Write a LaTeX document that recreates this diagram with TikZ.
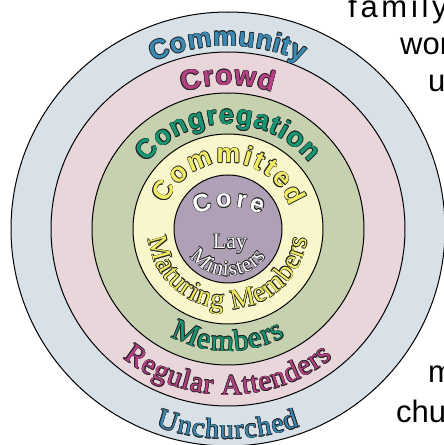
\documentclass[tikz,border=0pt]{standalone}
\usepackage{fontspec}
\setmainfont{Liberation Serif}
\newfontfamily\lsans{Liberation Sans}
\newfontfamily\lsansLS{Liberation Sans}[LetterSpace=12]
\newfontfamily\lserif{Liberation Serif}
\usetikzlibrary{decorations.text}

\definecolor{ringA}{RGB}{216,224,232}
\definecolor{ringB}{RGB}{232,214,218}
\definecolor{ringC}{RGB}{198,209,175}
\definecolor{ringD}{RGB}{248,246,202}
\definecolor{ringE}{RGB}{176,160,181}
\definecolor{cBlue}{RGB}{58,138,180}
\definecolor{cMag}{RGB}{182,64,132}
\definecolor{cGreen}{RGB}{22,150,115}
\definecolor{cYellow}{RGB}{242,236,100}
\definecolor{outl}{RGB}{35,35,35}

\newcommand\fCommunity{\lsans\bfseries\fontsize{27}{27}\selectfont}
\newcommand\fCrowd{\lsans\bfseries\fontsize{28}{28}\selectfont}
\newcommand\fCongr{\lsans\bfseries\fontsize{27}{27}\selectfont}
\newcommand\fCommit{\lsans\bfseries\fontsize{27}{27}\selectfont}
\newcommand\fCore{\lsans\bfseries\fontsize{25}{25}\selectfont}
\newcommand\fMinist{\lserif\fontsize{22}{22}\selectfont}
\newcommand\fMatur{\lserif\fontsize{28}{28}\selectfont}
\newcommand\fMemb{\lserif\fontsize{30}{30}\selectfont}
\newcommand\fRegul{\lserif\fontsize{29}{29}\selectfont}
\newcommand\fUnch{\lserif\fontsize{28}{28}\selectfont}

% #1 cx, #2 cy, #3 radius, #4 start angle, #5 end angle, #6 font macro, #7 colour, #8 text
\newcommand\ArcLabel[8]{%
  \begingroup#6%
  \foreach \dx/\dy in {0.6/0,-0.6/0,0/0.6,0/-0.6,0.42/0.42,-0.42/0.42,0.42/-0.42,-0.42/-0.42}{%
    \path[shift={(#1+\dx,#2+\dy)}, decorate,
      decoration={text along path, text align={fit to path}, text color=outl, text={#8}}]
      (#4:#3) arc[start angle=#4, end angle=#5, radius=#3];
  }%
  \path[shift={(#1,#2)}, decorate,
    decoration={text along path, text align={fit to path}, text color=#7, text={#8}}]
    (#4:#3) arc[start angle=#4, end angle=#5, radius=#3];
  \endgroup
}

\tikzset{
  ring/.style={draw=black, line width=1pt},
  sidetext/.style={anchor=base west, inner sep=0pt, text=black, font=\lsans\fontsize{31}{31}\selectfont},
}

\begin{document}
\begin{tikzpicture}[x=1pt,y=1pt]
\useasboundingbox (0,0) rectangle (444,445);
\begin{scope}
\clip (0,0) rectangle (444,445);
\coordinate (O) at (228,216);
\fill[ringA, ring] (O) circle (217);
\fill[ringB, ring] (O) circle (177);
\fill[ringC, ring] (O) circle (136);
\fill[ringD, ring] (O) circle (95);
\fill[ringE, ring] (O) circle (54);

% top labels
\ArcLabel{228}{216}{183}{114}{66}{\fCommunity}{cBlue}{Community}
\ArcLabel{228}{216}{144}{108}{72}{\fCrowd}{cMag}{Crowd}
\ArcLabel{228}{216}{105}{141}{39}{\fCongr}{cGreen}{Congregation}
\ArcLabel{228}{216}{66}{158}{20}{\fCommit}{cYellow}{Committed}
\ArcLabel{229}{163}{75}{116}{64}{\fCore}{white}{Core}

% bottom labels
\ArcLabel{228}{216}{47}{216}{324}{\fMinist}{white}{Ministers}
\ArcLabel{228}{216}{80}{187}{353}{\fMatur}{cYellow}{Maturing Members}
\ArcLabel{228}{216}{122}{242}{298}{\fMemb}{cGreen}{Members}
\ArcLabel{228}{216}{166}{231}{309}{\fRegul}{cMag}{Regular Attenders}
\ArcLabel{228}{216}{210}{250}{290}{\fUnch}{cBlue}{Unchurched}

% Lay
\foreach \dx/\dy in {0.6/0,-0.6/0,0/0.6,0/-0.6,0.42/0.42,-0.42/0.42,0.42/-0.42,-0.42/-0.42}{
  \node[anchor=base, inner sep=0pt, text=outl, font=\lserif\fontsize{22}{22}\selectfont] at (230+\dx,196+\dy) {Lay};
}
\node[anchor=base, inner sep=0pt, text=white, font=\lserif\fontsize{22}{22}\selectfont] (lay) at (230,196) {Lay};

% side text fragments
\node[sidetext, font=\lsansLS\fontsize{31}{31}\selectfont] (t1) at (348,427) {family};
\node[sidetext] (t2) at (400,390) {wor};
\node[sidetext] (t3) at (428,353) {u};
\node[sidetext] (t4) at (428,62) {m};
\node[sidetext] (t5) at (396,23) {chu};
\end{scope}
\end{tikzpicture}
\end{document}
